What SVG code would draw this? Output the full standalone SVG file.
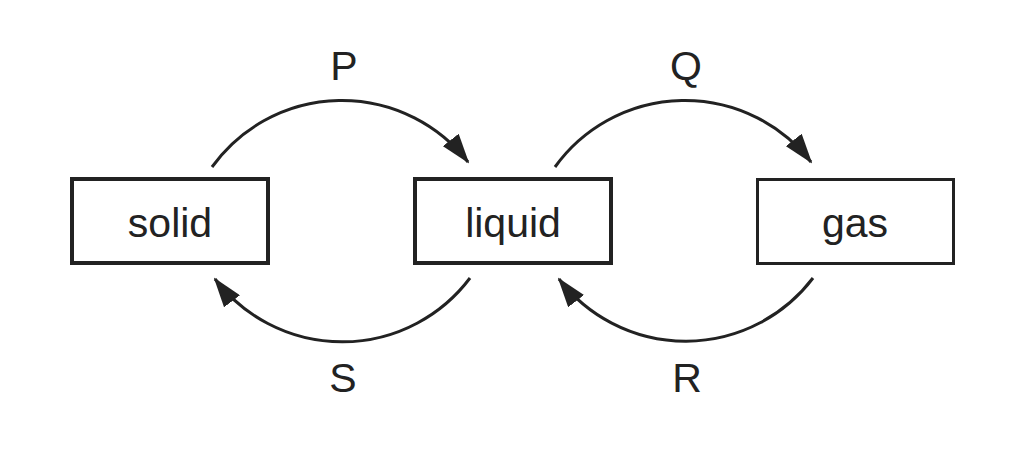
<svg xmlns="http://www.w3.org/2000/svg" width="1030" height="454" viewBox="0 0 1030 454">
<style>
.box{fill:#fff;stroke:#222;stroke-width:4}
.thin{stroke-width:3}
.lbl{font-family:"Liberation Sans",Arial,sans-serif;font-size:41px;fill:#222;text-anchor:middle}
.arc{fill:none;stroke:#222;stroke-width:3}
</style>
<defs>
<marker id="ah" markerUnits="userSpaceOnUse" viewBox="0 0 30 20" markerWidth="30" markerHeight="20" refX="28" refY="10" orient="auto">
<path d="M0,0 L30,10 L0,20 Z" fill="#222"/>
</marker>
</defs>
<rect width="1030" height="454" fill="#fff"/>
<g id="solid"><rect class="box" x="72" y="179" width="196" height="84"/><text class="lbl" x="170" y="237">solid</text></g>
<g id="liquid"><rect class="box" x="415" y="179" width="196" height="84"/><text class="lbl" x="513" y="237">liquid</text></g>
<g id="gas"><rect class="box thin" x="757.5" y="179.5" width="196" height="84"/><text class="lbl" x="855" y="237">gas</text></g>
<g id="connectors">
<path class="arc" d="M212,167 A160,160 0 0 1 468,162" marker-end="url(#ah)"/>
<path class="arc" d="M555,167 A160,160 0 0 1 811,162" marker-end="url(#ah)"/>
<path class="arc" d="M470,278 A160,160 0 0 1 215,279" marker-end="url(#ah)"/>
<path class="arc" d="M813,278 A160,160 0 0 1 559,279" marker-end="url(#ah)"/>
</g>
<g id="labels">
<text class="lbl" x="344" y="80">P</text>
<text class="lbl" x="686" y="80">Q</text>
<text class="lbl" x="343" y="392">S</text>
<text class="lbl" x="687" y="392">R</text>
</g>
</svg>
